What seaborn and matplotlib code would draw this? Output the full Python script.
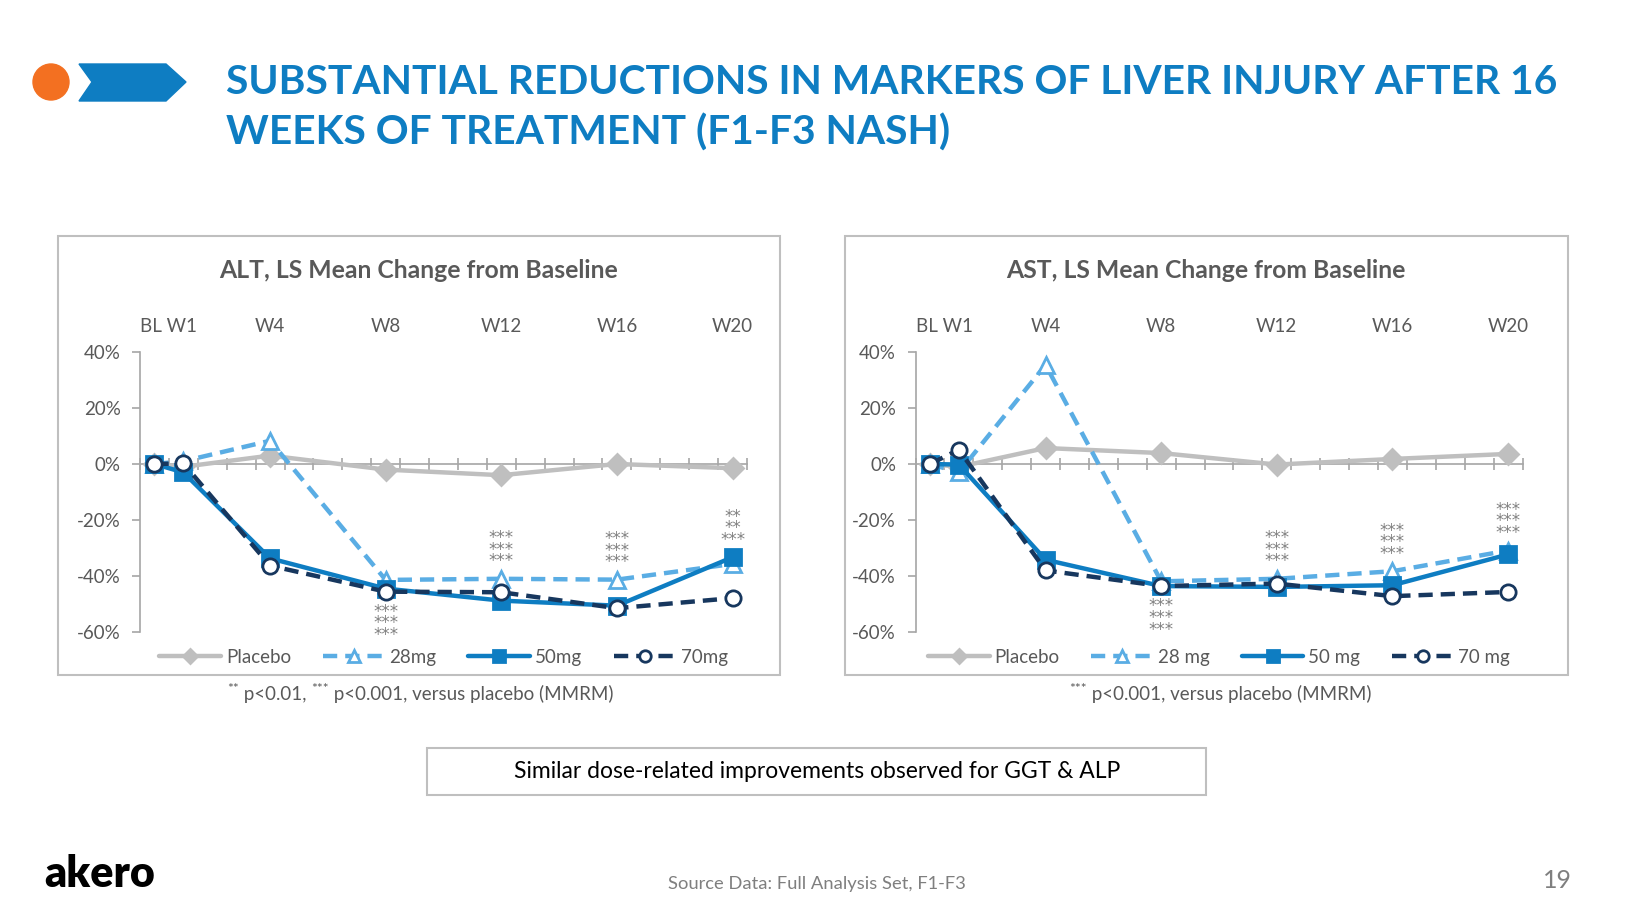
import numpy as np
import pandas as pd
import matplotlib
matplotlib.use("Agg")
import matplotlib.pyplot as plt
import seaborn as sns
from matplotlib.patches import Rectangle, Ellipse, Polygon

# ================= DATA =================

WEEKS = [0, 1, 4, 8, 12, 16, 20]
TOP_TICKS = [0.5, 4, 8, 12, 16, 20]
TOP_LABELS = ["BL W1", "W4", "W8", "W12", "W16", "W20"]
Y_TICKS = [-0.6, -0.4, -0.2, 0.0, 0.2, 0.4]

# ALT, LS mean change from baseline (fraction)
alt_placebo = [0.0, -0.01, 0.03, -0.02, -0.04, 0.0, -0.015]
alt_28 = [0.0, 0.01, 0.083, -0.414, -0.41, -0.413, -0.357]
alt_50 = [0.0, -0.03, -0.337, -0.445, -0.488, -0.506, -0.333]
alt_70 = [0.0, 0.002, -0.363, -0.456, -0.458, -0.515, -0.479]

# AST, LS mean change from baseline (fraction)
ast_placebo = [0.0, -0.01, 0.057, 0.039, -0.002, 0.018, 0.036]
ast_28 = [0.0, -0.03, 0.354, -0.419, -0.41, -0.383, -0.309]
ast_50 = [0.0, -0.002, -0.342, -0.436, -0.439, -0.433, -0.323]
ast_70 = [0.0, 0.051, -0.38, -0.436, -0.427, -0.472, -0.457]

# significance marks: (week, anchor value, text, above?)
alt_sig = [(8, -0.456, "***\n***\n***", False),
           (12, -0.41, "***\n***\n***", True),
           (16, -0.413, "***\n***\n***", True),
           (20, -0.333, "**\n**\n***", True)]
ast_sig = [(8, -0.436, "***\n***\n***", False),
           (12, -0.41, "***\n***\n***", True),
           (16, -0.383, "***\n***\n***", True),
           (20, -0.309, "***\n***\n***", True)]

# ================= STYLE =================

sns.set_theme(style="white")
plt.rcParams["font.family"] = ["Lato", "DejaVu Sans"]

GREY_TXT = "#595959"
AX_GREY = "#A6A6A6"
BLUE = "#0E7DC2"

series_style = {
    "Placebo": dict(color="#BFBFBF", ls="-", marker="D", mfc="#BFBFBF", ms=10),
    "28mg": dict(color="#5AADE4", ls=(0, (3.2, 1.8)), marker="^", mfc="white", ms=12),
    "50mg": dict(color="#0E7DC2", ls="-", marker="s", mfc="#0E7DC2", ms=11),
    "70mg": dict(color="#17375E", ls=(0, (3.2, 1.8)), marker="o", mfc="white", ms=11),
}


def draw_panel(ax, values, names, sig):
    for key, name in zip(["Placebo", "28mg", "50mg", "70mg"], names):
        st = series_style[key]
        df = pd.DataFrame({"week": WEEKS, "change": values[key]})
        sns.lineplot(data=df, x="week", y="change", ax=ax, label=name,
                     color=st["color"], linestyle=st["ls"], linewidth=3.2,
                     marker=st["marker"], markersize=st["ms"],
                     markerfacecolor=st["mfc"], markeredgecolor=st["color"],
                     markeredgewidth=2, zorder=3)

    ax.set_xlim(-0.5, 20.5)
    ax.set_ylim(-0.6, 0.4)
    ax.set_xlabel("")
    ax.set_ylabel("")

    ax.spines["top"].set_visible(False)
    ax.spines["right"].set_visible(False)
    ax.spines["left"].set_color(AX_GREY)
    ax.spines["bottom"].set_color(AX_GREY)
    ax.spines["bottom"].set_position(("data", 0))
    ax.spines["left"].set_linewidth(1.2)
    ax.spines["bottom"].set_linewidth(1.2)

    # Excel-style category ticks between weeks, crossing the 0% line
    ax.set_xticks(np.arange(-0.5, 21, 1))
    ax.set_xticklabels([])
    ax.tick_params(axis="x", direction="inout", length=9, width=1.2,
                   color=AX_GREY, bottom=True)
    ax.set_yticks(Y_TICKS)
    ax.set_yticklabels([f"{int(round(v * 100))}%" for v in Y_TICKS])
    ax.tick_params(axis="y", direction="out", length=6, width=1.2,
                   color=AX_GREY, left=True, labelsize=13.5,
                   labelcolor=GREY_TXT, pad=8)

    top = ax.secondary_xaxis("top")
    top.set_xticks(TOP_TICKS)
    top.set_xticklabels(TOP_LABELS)
    top.tick_params(length=0, labelsize=13.5, labelcolor=GREY_TXT, pad=12)
    top.spines["top"].set_visible(False)

    for wk, val, txt, above in sig:
        off = 6 if above else -8
        ax.annotate(txt, (wk, val), xytext=(0, off), textcoords="offset points",
                    ha="center", va="bottom" if above else "top",
                    fontsize=12, color="#808080", linespacing=0.55,
                    family="DejaVu Sans")

    leg = ax.legend(loc="center", bbox_to_anchor=(0.5, -0.09), ncol=4,
                    frameon=False, fontsize=13.5, handlelength=3.3,
                    columnspacing=1.7, handletextpad=0.25, markerscale=0.75)
    for t in leg.get_texts():
        t.set_color(GREY_TXT)


# ================= FIGURE =================

fig = plt.figure(figsize=(16.34, 9.19), dpi=100)
W, H = 1634, 919


def fx(px):
    return px / W


def fy(py):
    return 1 - py / H


# header decoration
fig.patches.append(Ellipse((fx(51), fy(82)), 36 / W, 36 / H, transform=fig.transFigure,
                           color="#F37021"))
fig.patches.append(Polygon([(fx(79), fy(64)), (fx(166), fy(64)), (fx(186), fy(82)),
                            (fx(166), fy(101)), (fx(79), fy(101)), (fx(92), fy(82))],
                           closed=True, transform=fig.transFigure, color=BLUE))

fig.text(fx(226), fy(83), "SUBSTANTIAL REDUCTIONS IN MARKERS OF LIVER INJURY AFTER 16",
         color=BLUE, fontsize=29.3, fontweight="bold", va="center", ha="left")
fig.text(fx(226), fy(133), "WEEKS OF TREATMENT (F1-F3 NASH)",
         color=BLUE, fontsize=29.3, fontweight="bold", va="center", ha="left")

# chart frames
for x0, x1 in [(58, 780), (845, 1568)]:
    fig.patches.append(Rectangle((fx(x0), fy(675)), (x1 - x0) / W, 439 / H,
                                 transform=fig.transFigure, fill=False,
                                 edgecolor="#BFBFBF", linewidth=1.5))

ax1 = fig.add_axes([fx(140), fy(632), 607 / W, 280 / H])
ax2 = fig.add_axes([fx(915.5), fy(632), 607 / W, 280 / H])

draw_panel(ax1, {"Placebo": alt_placebo, "28mg": alt_28, "50mg": alt_50, "70mg": alt_70},
           ["Placebo", "28mg", "50mg", "70mg"], alt_sig)
draw_panel(ax2, {"Placebo": ast_placebo, "28mg": ast_28, "50mg": ast_50, "70mg": ast_70},
           ["Placebo", "28 mg", "50 mg", "70 mg"], ast_sig)

fig.text(fx(419), fy(270), "ALT, LS Mean Change from Baseline", ha="center", va="center",
         fontsize=17.8, fontweight="bold", color=GREY_TXT)
fig.text(fx(1206), fy(270), "AST, LS Mean Change from Baseline", ha="center", va="center",
         fontsize=17.8, fontweight="bold", color=GREY_TXT)

# footnotes: small raised asterisks then the text
t1 = fig.text(fx(239), fy(703), " p<0.01, ", fontsize=13.5, color=GREY_TXT,
              va="bottom", ha="left")
ax1.annotate("**", xy=(0, 0.45), xycoords=t1, ha="right", va="bottom",
             fontsize=10, color=GREY_TXT, annotation_clip=False)
s2 = ax1.annotate("***", xy=(1, 0.45), xycoords=t1, ha="left", va="bottom",
                  fontsize=10, color=GREY_TXT, annotation_clip=False)
ax1.annotate(" p<0.001, versus placebo (MMRM)", xy=(1, 0), xycoords=(s2, t1),
             ha="left", va="bottom", fontsize=13.5, color=GREY_TXT,
             annotation_clip=False)

t3 = fig.text(fx(1087), fy(703), " p<0.001, versus placebo (MMRM)", fontsize=13.5,
              color=GREY_TXT, va="bottom", ha="left")
ax2.annotate("***", xy=(0, 0.45), xycoords=t3, ha="right", va="bottom",
             fontsize=10, color=GREY_TXT, annotation_clip=False)

# note box
fig.patches.append(Rectangle((fx(427), fy(795)), (1206 - 427) / W, 47 / H,
                             transform=fig.transFigure, fill=False,
                             edgecolor="#BFBFBF", linewidth=1.5))
fig.text(fx(817), fy(772), "Similar dose-related improvements observed for GGT & ALP",
         ha="center", va="center", fontsize=16.5, color="black")

# footer
fig.text(fx(817), fy(884), "Source Data: Full Analysis Set, F1-F3", ha="center",
         va="center", fontsize=13.2, color="#7F7F7F")
fig.text(fx(1557), fy(881), "19", ha="center", va="center", fontsize=18, color="#7F7F7F")
fig.text(fx(44), fy(874), "akero", ha="left", va="center", fontsize=31,
         fontweight="heavy", color="black")

plt.savefig("out.png", dpi=100)
